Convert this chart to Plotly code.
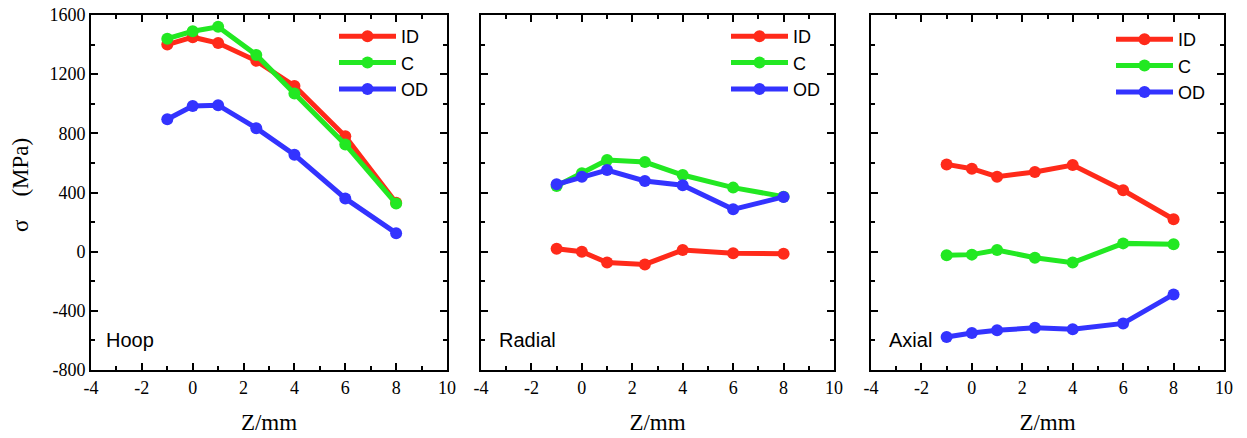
import plotly.graph_objects as go

z = [-1, 0, 1, 2.5, 4, 6, 8]

hoop_id = [1400, 1450, 1410, 1290, 1120, 780, 330]
hoop_c = [1440, 1490, 1520, 1330, 1070, 725, 325]
hoop_od = [895, 985, 990, 835, 655, 360, 125]

radial_id = [20, 0, -74, -86, 11, -11, -14]
radial_c = [444, 530, 620, 606, 518, 433, 372]
radial_od = [455, 507, 552, 478, 449, 286, 370]

axial_id = [590, 561, 507, 539, 586, 415, 219]
axial_c = [-25, -20, 11, -41, -74, 56, 50]
axial_od = [-577, -550, -532, -514, -525, -485, -289]

series_names = ["ID", "C", "OD"]
colors = ["#ff2a1a", "#22e822", "#3333ff"]
panel_labels = ["Hoop", "Radial", "Axial"]
panels = [
    [hoop_id, hoop_c, hoop_od],
    [radial_id, radial_c, radial_od],
    [axial_id, axial_c, axial_od],
]

x_tickvals = [-4, -2, 0, 2, 4, 6, 8, 10]
x_ticktext = ["-4", "-2", "0", "2", "4", "6", "8", "10"]
y_tickvals = [-800, -400, 0, 400, 800, 1200, 1600]
y_ticktext = ["-800", "-400", "0", "400", "800", "1200", "1600"]
y_title = "σ\u00a0\u00a0\u00a0\u00a0(MPa)"

W, H = 1247, 438
TOP, BOT = 15, 370
PH = BOT - TOP
px_dom = [(91, 447), (481, 834), (871, 1224)]
legend_pos = [(334, 3), (726, 3), (1111, 6)]

fig = go.Figure()
for i, (vals, lab) in enumerate(zip(panels, panel_labels)):
    ax = "" if i == 0 else str(i + 1)
    lg = "legend" if i == 0 else f"legend{i + 1}"
    for name, col, v in zip(series_names, colors, vals):
        fig.add_trace(go.Scatter(
            x=z, y=v, name=name, mode="lines+markers",
            line=dict(color=col, width=5),
            marker=dict(color=col, size=12),
            xaxis="x" + ax, yaxis="y" + ax, legend=lg,
        ))
    d0, d1 = px_dom[i]
    common = dict(
        showline=True, linecolor="black", linewidth=2, mirror="ticks",
        ticks="inside", ticklen=7, tickwidth=1.5, tickcolor="black",
        showgrid=False, zeroline=False, automargin=False,
        ticklabeloverflow="allow",
        tickfont=dict(family="Liberation Serif", size=18, color="black"),
    )
    fig.layout["xaxis" + ax] = dict(
        domain=[d0 / W, d1 / W], range=[-4, 10],
        tickmode="array", tickvals=x_tickvals, ticktext=x_ticktext,
        anchor="y" + ax,
        minor=dict(dtick=1, tick0=-4, ticks="inside", ticklen=4, tickwidth=1.5, tickcolor="black"),
        title=dict(text="Z/mm", font=dict(family="Liberation Serif", size=23, color="black"), standoff=17),
        **common,
    )
    fig.layout["yaxis" + ax] = dict(
        domain=[0, 1], range=[-800, 1600],
        tickmode="array", tickvals=y_tickvals, ticktext=y_ticktext,
        anchor="x" + ax, showticklabels=(i == 0),
        minor=dict(dtick=200, tick0=-800, ticks="inside", ticklen=4, tickwidth=1.5, tickcolor="black"),
        **common,
    )
    lx, ly = legend_pos[i]
    fig.layout[lg] = dict(
        x=lx / W, y=1 - ly / PH, xref="paper", yref="paper",
        xanchor="left", yanchor="top", bgcolor="rgba(0,0,0,0)",
        font=dict(family="Liberation Sans", size=18, color="black"),
        itemwidth=57, tracegroupgap=0,
    )
    fig.add_annotation(
        text=lab, xref=f"x{ax} domain", yref=f"y{ax} domain",
        x=0.037 if i == 0 else 0.045, y=0.085, xanchor="left", yanchor="middle",
        showarrow=False, font=dict(family="Liberation Sans", size=20, color="black"),
    )

# y-axis title of the first panel
fig.add_annotation(
    text=y_title, xref="paper", yref="paper", x=20 / W, y=(BOT - 185) / PH,
    xanchor="center", yanchor="middle", textangle=-90, showarrow=False,
    font=dict(family="Liberation Serif", size=23, color="black"),
)

fig.update_layout(
    width=W, height=H,
    margin=dict(l=0, r=0, t=TOP, b=H - BOT, autoexpand=False),
    paper_bgcolor="white", plot_bgcolor="white",
    showlegend=True,
)
fig.write_html(
    "out.html",
    config={"displayModeBar": False},
    post_script="document.body.style.margin='0';document.body.style.overflow='hidden';",
)
